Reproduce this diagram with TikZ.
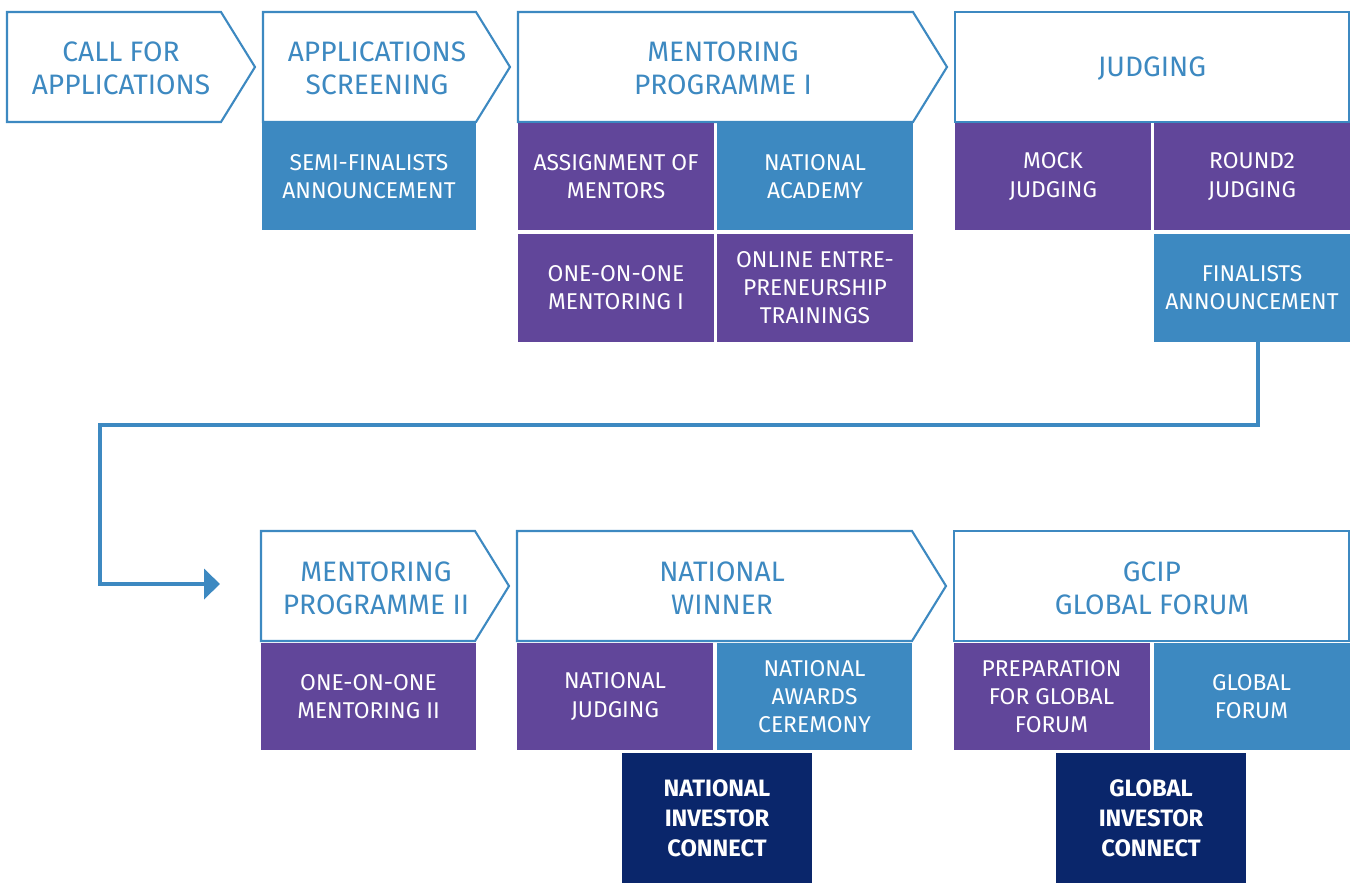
\documentclass[tikz,border=0pt]{standalone}
\usepackage{fontspec}
\setmainfont{Fira Sans}
\usetikzlibrary{arrows.meta}
\definecolor{gcblue}{RGB}{61,137,193}
\definecolor{gcpurple}{RGB}{97,70,154}
\definecolor{gcnavy}{RGB}{10,38,107}

\begin{document}
\begin{tikzpicture}[x=0.02cm, y=-0.02cm,
   stage/.style={draw=gcblue, line width=1.2pt, line join=miter, fill=white},
   stagetext/.style={text=gcblue, align=center, font=\fontsize{16}{18.7}\selectfont},
   purplebox/.style={fill=gcpurple},
   bluebox/.style={fill=gcblue},
   navybox/.style={fill=gcnavy, minimum width=3.8cm, minimum height=2.6cm,
     font=\bfseries\fontsize{13.5}{17}\selectfont},
   flow/.style={draw=gcblue, line width=2.8pt, line join=miter,
     -{Triangle[length=0.32cm, width=0.6cm]}}]
   \useasboundingbox (0,0) rectangle (1351,883);
   % stages
   \draw [stage] (7,12) -- (221,12) -- (255,67) -- (221,122) -- (7,122) -- cycle;
   \draw [stage] (263,12) -- (476,12) -- (510,67) -- (476,122) -- (263,122) -- cycle;
   \draw [stage] (518,12) -- (913,12) -- (947,67) -- (913,122) -- (518,122) -- cycle;
   \draw [stage] (955,12) rectangle (1349,122);
   \draw [stage] (261,531) -- (475,531) -- (509,586) -- (475,641) -- (261,641) -- cycle;
   \draw [stage] (517,531) -- (912,531) -- (946,586) -- (912,641) -- (517,641) -- cycle;
   \draw [stage] (954,531) rectangle (1349,641);
   \node (call) [stagetext] at (121,68) {CALL FOR\\APPLICATIONS};
   \node (screen) [stagetext] at (377,68) {APPLICATIONS\\SCREENING};
   \node (mentor1) [stagetext] at (723,68) {MENTORING\\PROGRAMME I};
   \node (judging) [stagetext] at (1152,69) {JUDGING};
   \node (mentor2) [stagetext] at (376,588) {MENTORING\\PROGRAMME II};
   \node (winner) [stagetext] at (722,588) {NATIONAL\\WINNER};
   \node (gcip) [stagetext] at (1152,588) {GCIP\\GLOBAL FORUM};
 \begin{scope}[every node/.style={rectangle, inner sep=0pt, text=white, align=center,
     minimum width=3.92cm, minimum height=2.14cm, font=\fontsize{13}{16}\selectfont}]
   \node (semi) [bluebox, minimum width=4.28cm] at (369,176.5) {SEMI-FINALISTS\\ANNOUNCEMENT};
   \node (assign) [purplebox] at (616,176.5) {ASSIGNMENT OF\\MENTORS};
   \node (academy) [bluebox] at (815,176.5) {NATIONAL\\ACADEMY};
   \node (mock) [purplebox] at (1053,176.5) {MOCK\\JUDGING};
   \node (round2) [purplebox] at (1252,176.5) {ROUND2\\JUDGING};
   \node (one1) [purplebox, minimum height=2.16cm] at (616,288) {ONE-ON-ONE\\MENTORING I};
   \node (online) [purplebox, minimum height=2.16cm] at (815,288) {ONLINE ENTRE-\\PRENEURSHIP\\TRAININGS};
   \node (final) [bluebox, minimum height=2.16cm] at (1252,288) {FINALISTS\\ANNOUNCEMENT};
   \node (one2) [purplebox, minimum width=4.3cm] at (368.5,696.5) {ONE-ON-ONE\\MENTORING II};
   \node (natjudge) [purplebox] at (615,696.5) {NATIONAL\\JUDGING};
   \node (awards) [bluebox] at (814.5,696.5) {NATIONAL\\AWARDS\\CEREMONY};
   \node (prep) [purplebox] at (1051.5,696.5) {PREPARATION\\FOR GLOBAL\\FORUM};
   \node (forum) [bluebox] at (1251.5,696.5) {GLOBAL\\FORUM};
   \node (natinv) [navybox] at (717,818) {NATIONAL\\INVESTOR\\CONNECT};
   \node (globinv) [navybox] at (1151,818) {GLOBAL\\INVESTOR\\CONNECT};
 \end{scope}
   \coordinate (bend) at (100,425);
   \coordinate (arrowtip) at (220,584);
   \draw [flow] ([xshift=0.12cm]final.south) |- (bend) |- (arrowtip);
\end{tikzpicture}
\end{document}
